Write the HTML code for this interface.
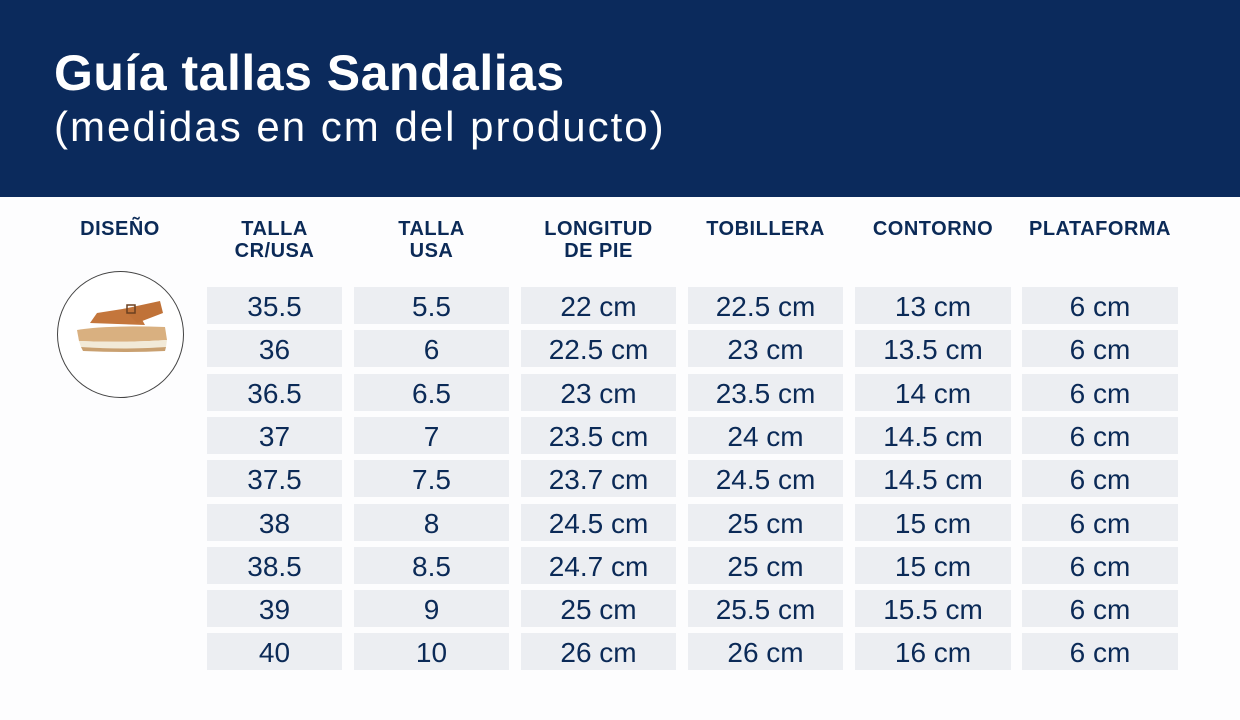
<!DOCTYPE html>
<html><head><meta charset="utf-8"><style>
*{margin:0;padding:0;box-sizing:border-box}
body{width:1240px;height:720px;background:#fdfdfe;position:relative;overflow:hidden;font-family:"Liberation Sans",sans-serif;color:#0b2a57}
.hdr{position:absolute;left:0;top:0;width:1240px;height:197px;background:#0b2a5c}
.t1{position:absolute;left:54px;top:48px;font-size:50px;line-height:1;font-weight:bold;color:#fff;letter-spacing:0.5px}
.t2{position:absolute;left:54px;top:104px;font-size:42px;line-height:46px;color:#fff;letter-spacing:2px}
.h{position:absolute;font-size:20px;font-weight:bold;text-align:center;line-height:22px;color:#0b2a57;letter-spacing:0.5px;white-space:nowrap}
.c{position:absolute;height:37px;background:#eceef2;font-size:28px;text-align:center;line-height:39px;color:#0b2a57}
.circ{position:absolute;left:57px;top:271px;width:127px;height:127px;border:1.5px solid #444;border-radius:50%;background:#fff}
</style></head><body>
<div class="hdr"></div>
<div class="t1">Guía tallas Sandalias</div>
<div class="t2">(medidas en cm del producto)</div>
<div class="h" style="left:60px;width:120px;top:218px">DISEÑO</div>
<div class="h" style="left:207px;width:135px;top:218px">TALLA<br>CR/USA</div>
<div class="h" style="left:354px;width:155px;top:218px">TALLA<br>USA</div>
<div class="h" style="left:521px;width:155px;top:218px">LONGITUD<br>DE PIE</div>
<div class="h" style="left:688px;width:155px;top:218px">TOBILLERA</div>
<div class="h" style="left:855px;width:156px;top:218px">CONTORNO</div>
<div class="h" style="left:1022px;width:156px;top:218px">PLATAFORMA</div>
<div class="circ"></div>
<svg style="position:absolute;left:75px;top:295px" width="100" height="65" viewBox="0 0 100 65">
<path d="M2 35 Q30 30 90 32 L92 45 Q50 48 4 46 Z" fill="#d9b080"/>
<path d="M4 46 Q50 48 92 45 L91 52 Q50 55 6 52 Z" fill="#f2ead8"/>
<path d="M6 52 Q50 55 91 52 L90 56 Q50 58 8 56 Z" fill="#c9a070"/>
<path d="M15 28 L22 18 L60 12 L70 30 Z" fill="#c4763c"/>
<path d="M48 14 L85 6 L88 18 L62 28 Z" fill="#c07238"/>
<rect x="52" y="10" width="8" height="8" fill="none" stroke="#6b4020" stroke-width="1.5"/>
</svg>
<div id="cells"></div>
<script>
var cols=[[207,135],[354,155],[521,155],[688,155],[855,156],[1022,156]];
var d=[["35.5","5.5","22 cm","22.5 cm","13 cm","6 cm"],["36","6","22.5 cm","23 cm","13.5 cm","6 cm"],["36.5","6.5","23 cm","23.5 cm","14 cm","6 cm"],["37","7","23.5 cm","24 cm","14.5 cm","6 cm"],["37.5","7.5","23.7 cm","24.5 cm","14.5 cm","6 cm"],["38","8","24.5 cm","25 cm","15 cm","6 cm"],["38.5","8.5","24.7 cm","25 cm","15 cm","6 cm"],["39","9","25 cm","25.5 cm","15.5 cm","6 cm"],["40","10","26 cm","26 cm","16 cm","6 cm"]];
var h="";
for(var r=0;r<9;r++){var y=287+r*43.3;for(var c=0;c<6;c++){h+='<div class="c" style="left:'+cols[c][0]+'px;width:'+cols[c][1]+'px;top:'+y.toFixed(1)+'px">'+d[r][c]+'</div>';}}
document.getElementById("cells").innerHTML=h;
</script>
</body></html>
